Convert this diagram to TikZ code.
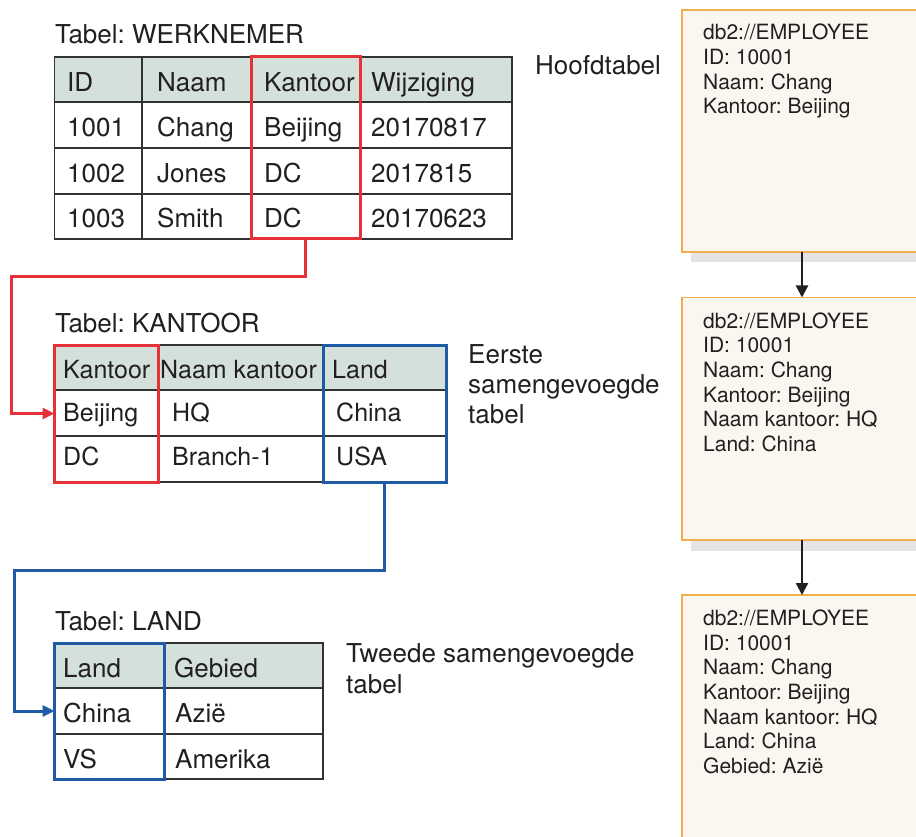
\documentclass[tikz,border=0pt]{standalone}
\usepackage{fontspec}
\setmainfont{TeX Gyre Heros}
\usetikzlibrary{arrows.meta}
\definecolor{hdrc}{RGB}{211,225,218}
\definecolor{redc}{RGB}{228,50,56}
\definecolor{bluec}{RGB}{30,90,165}
\definecolor{tblc}{RGB}{50,50,50}
\definecolor{cardborder}{RGB}{240,176,80}
\definecolor{cardfill}{RGB}{250,246,240}
\definecolor{shadowc}{RGB}{228,228,228}
\definecolor{txtc}{RGB}{35,31,32}
\frenchspacing
\begin{document}
\frenchspacing
\begin{tikzpicture}[x=1pt,y=-1pt,
  tblbox/.style={draw=tblc, line width=1.7pt, rectangle, inner sep=0pt, outer sep=0pt, anchor=north west},
  tblline/.style={draw=tblc, line width=1.7pt},
  cell/.style={anchor=base west, inner sep=0pt, text=txtc, font=\fontsize{26}{30}\selectfont},
  cellk/.style={anchor=base west, inner sep=0pt, text=txtc, font=\fontsize{25}{30}\selectfont},
  keyred/.style={draw=redc, line width=3pt, rectangle, inner sep=0pt, outer sep=0pt, anchor=north west},
  keyblue/.style={draw=bluec, line width=3pt, rectangle, inner sep=0pt, outer sep=0pt, anchor=north west},
  redlink/.style={draw=redc, line width=3pt, -{Triangle[length=12pt,width=11pt]}},
  bluelink/.style={draw=bluec, line width=3pt, -{Triangle[length=12pt,width=11pt]}},
  card/.style={draw=cardborder, fill=cardfill, line width=1.4pt, rectangle, inner sep=0pt, outer sep=0pt, anchor=north west},
  flow/.style={draw=txtc, line width=2.2pt, -{Triangle[length=12pt,width=12pt]}},
  rec/.style={anchor=base west, inner sep=0pt, text=txtc, font=\fontsize{21}{24}\selectfont}
]
\clip (0,0) rectangle (916,837);
\fill[white] (0,0) rectangle (916,837);

% ---------- Table WERKNEMER ----------
\node[cell] (tw) at (55,44) {Tabel: WERKNEMER};
\fill[hdrc] (54.5,57) rectangle (512,102);
\foreach \y in {102,148,194} \draw[tblline] (54.5,\y) -- (512,\y);
\foreach \x in {142,252,360} \draw[tblline] (\x,57) -- (\x,239);
\node[tblbox, minimum width=457.5pt, minimum height=182pt] (werk) at (54.5,57) {};
\foreach \x/\y/\t [count=\i] in {
  67/92/ID, 157/92/Naam, 264/92/Kantoor, 371/92/Wijziging,
  67/137/1001, 157/137/Chang, 264/137/Beijing, 371/137/20170817,
  67/183/1002, 157/183/Jones, 264/183/DC, 371/183/2017815,
  67/228/1003, 157/228/Smith, 264/228/DC, 371/228/20170623}
  \node[cell] (w\i) at (\x,\y) {\t};
\node[keyred, minimum width=109pt, minimum height=182pt] (wkey) at (251,57) {};

\node[cell] (hoofd) at (535,75) {Hoofdtabel};

% ---------- Table KANTOOR ----------
\node[cell] (tk) at (55,332.3) {Tabel: KANTOOR};
\fill[hdrc] (54.5,345) rectangle (446,390);
\foreach \y in {390,436} \draw[tblline] (54.5,\y) -- (446,\y);
\foreach \x in {158,323} \draw[tblline] (\x,345) -- (\x,482);
\node[tblbox, minimum width=391.5pt, minimum height=137pt] (kant) at (54.5,345) {};
\foreach \x/\y/\t [count=\i] in {
  63/378.3/Kantoor, 160/378.3/Naam kantoor, 332/378.3/Land,
  63/421.7/Beijing, 172/421.7/HQ, 336/421.7/China,
  63/465.5/DC, 172/465.5/Branch-1, 336/465.5/USA}
  \node[cellk] (k\i) at (\x,\y) {\t};
\node[keyred, minimum width=103.5pt, minimum height=137pt] (kkey) at (54.5,345) {};
\node[keyblue, minimum width=123pt, minimum height=137pt] (kland) at (323,345) {};

\node[cell] (e1) at (468,363.3) {Eerste};
\node[cell] (e2) at (468,393.3) {samengevoegde};
\node[cell] (e3) at (468,423.3) {tabel};

% ---------- Table LAND ----------
\node[cell] (tl) at (55,630) {Tabel: LAND};
\fill[hdrc] (54.5,643) rectangle (323,688);
\foreach \y in {688,734} \draw[tblline] (54.5,\y) -- (323,\y);
\draw[tblline] (164,643) -- (164,779);
\node[tblbox, minimum width=268.5pt, minimum height=136pt] (land) at (54.5,643) {};
\foreach \x/\y/\t [count=\i] in {
  63/677/Land, 174/677/Gebied,
  63/722/China, 175/722/Azië,
  63/768/VS, 175/768/Amerika}
  \node[cell] (l\i) at (\x,\y) {\t};
\node[keyblue, minimum width=109.5pt, minimum height=136pt] (lkey) at (54.5,643) {};

\node[cell] (t1) at (346,662.3) {Tweede samengevoegde};
\node[cell] (t2) at (346,693.3) {tabel};

% ---------- connectors ----------
\coordinate (r1) at (11.5,277);
\draw[redlink] (wkey.south) |- (r1) |- (kkey.west);
\coordinate (b1) at (14.5,570);
\draw[bluelink] (kland.south) |- (b1) |- (lkey.west);

% ---------- cards ----------
\fill[shadowc] (691,20) rectangle (930,262);
\node[card, minimum width=240pt, minimum height=242pt] (c1) at (682,10) {};
\fill[shadowc] (691,307.5) rectangle (930,551);
\node[card, minimum width=240pt, minimum height=242.5pt] (c2) at (682,297.5) {};
\node[card, minimum width=240pt, minimum height=260pt] (c3) at (682,595) {};

\foreach \t [count=\i] in {{db2://EMPLOYEE}, {ID: 10001}, {Naam: Chang}, {Kantoor: Beijing}}
  \node[rec] (ca\i) at (703,{40+(\i-1)*24.6}) {\t};
\foreach \t [count=\i] in {{db2://EMPLOYEE}, {ID: 10001}, {Naam: Chang}, {Kantoor: Beijing}, {Naam kantoor: HQ}, {Land: China}}
  \node[rec] (cb\i) at (703,{328.3+(\i-1)*24.6}) {\t};
\foreach \t [count=\i] in {{db2://EMPLOYEE}, {ID: 10001}, {Naam: Chang}, {Kantoor: Beijing}, {Naam kantoor: HQ}, {Land: China}, {Gebied: Azië}}
  \node[rec] (cc\i) at (703,{625.7+(\i-1)*24.6}) {\t};

\draw[flow] (c1.south) -- (c2.north);
\draw[flow] (c2.south) -- (c3.north);
\end{tikzpicture}
\end{document}
